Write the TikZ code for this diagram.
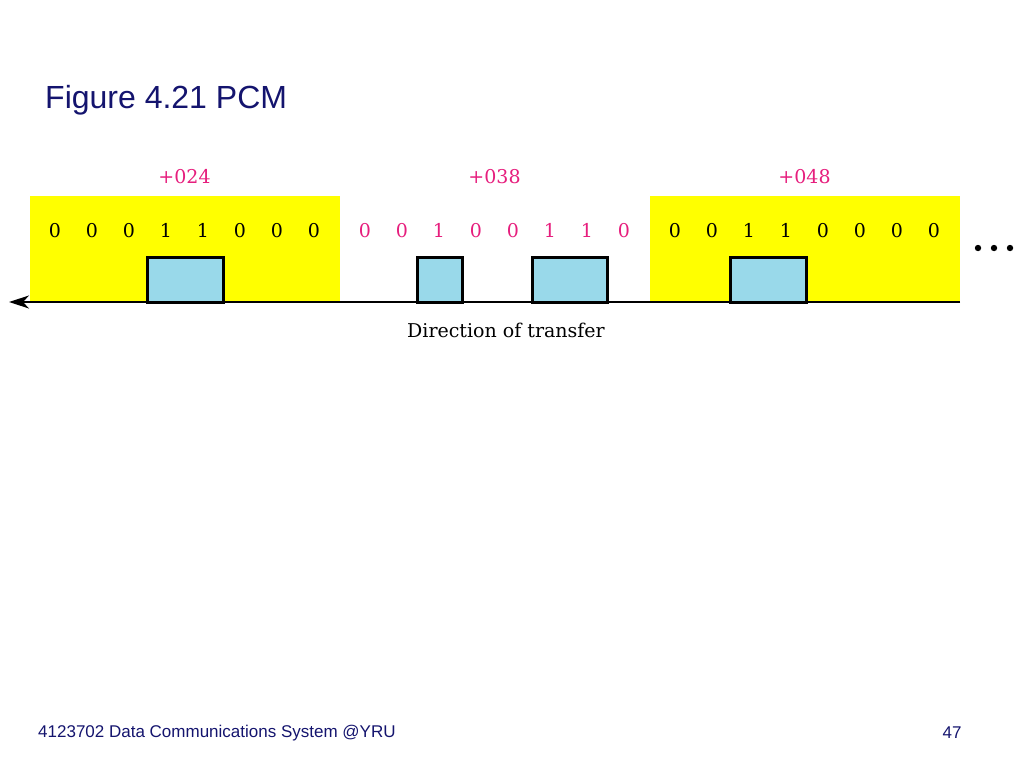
\documentclass[tikz,border=0pt]{standalone}
\usepackage{fontspec}
\newfontfamily\slidefont{Liberation Sans}
\newfontfamily\figfont{DejaVu Serif}
\usetikzlibrary{positioning}
\usetikzlibrary{arrows.meta}
\definecolor{titleblue}{RGB}{20,20,110}
\definecolor{codepink}{RGB}{230,30,125}
\definecolor{pulseblue}{RGB}{153,217,234}
\definecolor{frameyellow}{RGB}{255,255,0}

\begin{document}
\begin{tikzpicture}[x=1pt,y=-1pt]
          \tikzstyle{bnode} = [inner sep=0pt, anchor=base, font=\figfont\fontsize{19}{22}\selectfont]
          \tikzstyle{lnode} = [inner sep=0pt, anchor=base, text=codepink, font=\figfont\fontsize{19}{22}\selectfont]
          \tikzstyle{pulse} = [draw=black, fill=pulseblue, line width=3pt]
          \tikzstyle{snode} = [inner sep=0pt, text=titleblue, anchor=west]
          \useasboundingbox (0,0) rectangle (1024,768);

          % frames of the two outer codes
          \fill[frameyellow] (30,196) rectangle (340,302);
          \fill[frameyellow] (650,196) rectangle (960,302);

          % bits and their codes
          \foreach \bits/\code [count=\g from 0] in {{0,0,0,1,1,0,0,0}/+024,{0,0,1,0,0,1,1,0}/+038,{0,0,1,1,0,0,0,0}/+048} {
            \node[lnode] (code\g) at (184.5+310*\g,183) {\code};
            \foreach \b [count=\i from 0] in \bits {
              \ifodd\g
                \node[bnode, text=codepink] (bit\g\i) at (55+310*\g+37*\i,237) {\b};
              \else
                \node[bnode] (bit\g\i) at (55+310*\g+37*\i,237) {\b};
              \fi
            }
          }

          % pulses
          \draw[pulse] (147,257) rectangle (223,302);
          \draw[pulse] (417,257) rectangle (462,302);
          \draw[pulse] (532,257) rectangle (607,302);
          \draw[pulse] (730,257) rectangle (806,302);

          \coordinate (tail) at (960,302);
          \coordinate (head) at (9,302);
          \draw[-{Stealth[length=20pt,width=13pt,inset=6pt]}, line width=1.3pt] (tail) -- (head);
          \node[bnode] (dir) at (506,337) {Direction of transfer};

          \foreach \x in {978,994,1010} \fill (\x,248) circle (3.2);

          \node[snode, font=\slidefont\fontsize{32}{36}\selectfont] (title) at (45,100) {Figure 4.21 PCM};
          \node[snode, font=\slidefont\fontsize{17}{20}\selectfont] (foot) at (38,733) {4123702 Data Communications System @YRU};
          \node[snode, font=\slidefont\fontsize{17}{20}\selectfont, anchor=center] (page) at (952,733) {47};
        \end{tikzpicture}
\end{document}
